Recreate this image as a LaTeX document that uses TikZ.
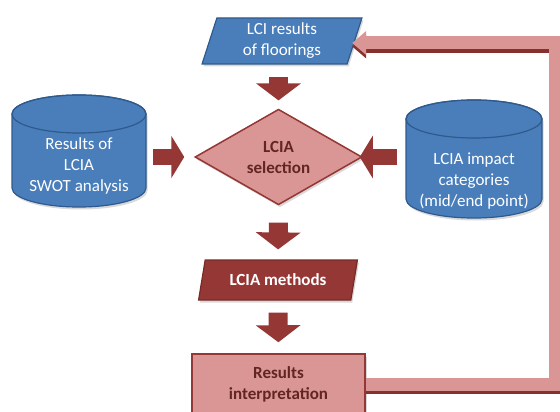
\documentclass[tikz,border=0pt]{standalone}
\usepackage{fontspec}
\setmainfont{Carlito}
\usetikzlibrary{shapes.geometric,arrows.meta,shadows}

\definecolor{lcablue}{HTML}{4A7EBB}
\definecolor{lcablueline}{HTML}{2F5A8C}
\definecolor{lcapink}{HTML}{D99694}
\definecolor{lcared}{HTML}{953735}
\definecolor{lcadark}{HTML}{632523}

\tikzset{
	shade/.style={drop shadow={shadow xshift=1.5pt, shadow yshift=-2.5pt, opacity=.3}},
	txt/.style={font=\fontsize{17}{21}\selectfont, align=center},
	txtb/.style={font=\fontsize{17}{21}\selectfont\bfseries, align=center},
	datain/.style={trapezium, trapezium stretches=true, trapezium left angle=76, trapezium right angle=104, fill=lcablue, draw=lcablueline, line width=1.2pt, text=white, txt, minimum width=160pt, minimum height=46pt, inner sep=0pt, shade},
	method/.style={trapezium, trapezium stretches=true, trapezium left angle=70, trapezium right angle=110, fill=lcared, draw=lcared!80!black, line width=1.2pt, text=white, txtb, minimum width=159pt, minimum height=40pt, inner sep=0pt, shade},
	storebox/.style={rectangle, inner sep=0pt, outer sep=0pt},
	storebody/.style={fill=lcablue, draw=lcablueline, line width=1.2pt, shade},
	storetop/.style={draw=lcablueline, line width=1.2pt},
	storetxt/.style={text=white, txt, inner sep=0pt},
	choice/.style={diamond, fill=lcapink, draw=lcared, line width=1.5pt, text=lcadark, txtb, minimum width=167pt, minimum height=87pt, inner sep=0pt, shade},
	result/.style={rectangle, fill=lcapink, draw=lcared, line width=1.5pt, text=lcadark, txtb, minimum width=173pt, minimum height=60pt, inner sep=0pt, shade},
	flow/.style={draw=lcared, line width=19pt, -{Triangle[length=17pt, width=44pt]}},
	side/.style={draw=lcared, line width=16pt, -{Triangle[length=13pt, width=42pt]}},
	back/.style={draw=lcapink, line width=13pt, -{Triangle[length=14pt, width=23pt]}},
	backshade/.style={back, draw=lcared!90!black, transform canvas={yshift=-3.5pt}}
}

\begin{document}
\begin{tikzpicture}[x=1pt, y=-1pt]
	\useasboundingbox (0,0) rectangle (560,412);
	\node[datain] (top) at (282,41) {LCI results\\of floorings};
	\node[choice] (sel) at (278.5,157) {LCIA\\selection};
	\node[method] (meth) at (278,280) {LCIA methods};
	\node[result] (res) at (278.5,384) {Results\\interpretation};

	% data stores
	\node[storebox, minimum width=134pt, minimum height=112pt] (swot) at (79,151) {};
	\path[storebody] ([yshift=-19pt]swot.north west) -- ([yshift=19pt]swot.south west)
		arc[start angle=180, end angle=360, x radius=67pt, y radius=19pt]
		-- ([yshift=-19pt]swot.north east)
		arc[start angle=0, end angle=180, x radius=67pt, y radius=19pt] -- cycle;
	\draw[storetop] ([yshift=-19pt]swot.north) ellipse [x radius=67pt, y radius=19pt];
	\node[storetxt] (swottxt) at (79,166) {Results of\\LCIA\\SWOT analysis};

	\node[storebox, minimum width=136pt, minimum height=118pt] (cat) at (474,159) {};
	\path[storebody] ([yshift=-19pt]cat.north west) -- ([yshift=19pt]cat.south west)
		arc[start angle=180, end angle=360, x radius=68pt, y radius=19pt]
		-- ([yshift=-19pt]cat.north east)
		arc[start angle=0, end angle=180, x radius=68pt, y radius=19pt] -- cycle;
	\draw[storetop] ([yshift=-19pt]cat.north) ellipse [x radius=68pt, y radius=19pt];
	\node[storetxt] (cattxt) at (474,181) {LCIA impact\\categories\\(mid/end point)};

	\coordinate (loop) at (555,43);

	\draw[flow, shorten <=12pt, shorten >=8pt] (sel.north |- top.south) -- (sel.north);
	\draw[flow, shorten <=17pt, shorten >=10pt] (sel.south) -- (meth.north);
	\draw[flow, shorten <=12pt, shorten >=11pt] (meth.south) -- (res.north);
	\draw[side, shorten <=7pt, shorten >=10pt] (swot.east |- sel.west) -- (sel.west);
	\draw[side, shorten <=9pt, shorten >=-3pt] (cat.west |- sel.east) -- (sel.east);
	\draw[backshade, shorten >=-3pt] (res.east) -| (loop) -- (loop -| top.east);
	\draw[back, shorten >=-3pt] (res.east) -| (loop) -- (loop -| top.east);
\end{tikzpicture}
\end{document}
